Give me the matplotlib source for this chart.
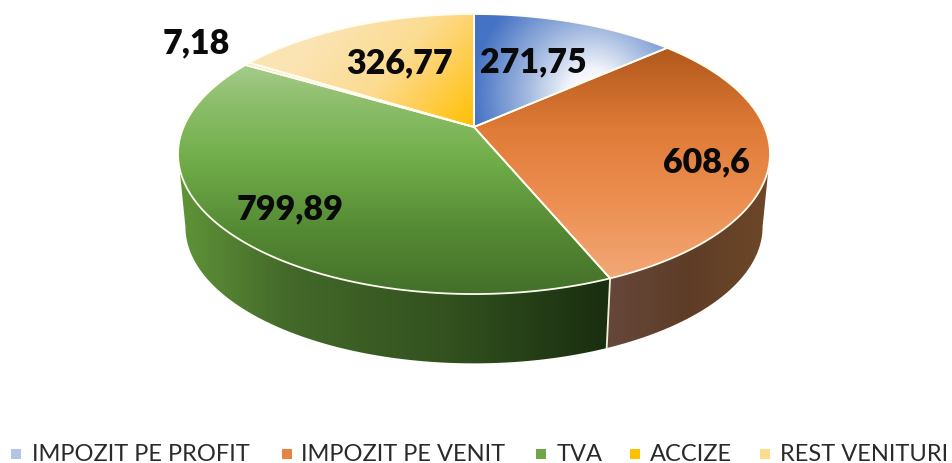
import numpy as np
from matplotlib import pyplot as plt
from matplotlib.colors import LinearSegmentedColormap
from matplotlib.patches import Polygon

categories = ['IMPOZIT PE PROFIT', 'IMPOZIT PE VENIT', 'TVA', 'ACCIZE', 'REST VENITURI']
values = [271.75, 608.6, 799.89, 7.18, 326.77]
value_labels = ['271,75', '608,6', '799,89', '7,18', '326,77']
legend_colors = ['#B4C4E4', '#E58544', '#6FA547', '#FFC000', '#FBDD8E']

label_xy = [(533, 62), (706, 162), (290, 209), (196, 43), (400, 63)]
legend_marker_x = [16, 287, 541, 635, 765]
legend_text_x = [32, 301, 557, 650, 780]

# pie geometry, in picture pixels
CX, CY = 474, 128
A, B, K = 290.4, 134.8, 0.193
WALL_DROP, WALL_SCALE = 73.5, 0.975

plt.rcParams['font.family'] = ['Lato', 'DejaVu Sans']

fig = plt.figure(figsize=(9.52, 4.64), dpi=100)
ax = fig.add_axes([0, 0, 1, 1])


def rim(theta, scale=1.0, drop=0):
    # clockwise from the top, with the far side of the pie foreshortened
    w = 1 + K * np.cos(theta)
    return CX + scale * A * np.sin(theta) / w, CY + drop - scale * B * np.cos(theta) / w


def linear(p0, p1):
    d = np.array(p1, float) - np.array(p0, float)
    return lambda x, y: ((x - p0[0]) * d[0] + (y - p0[1]) * d[1]) / (d @ d)


def radial(c, r):
    return lambda x, y: np.hypot(x - c[0], y - c[1]) / r


def fill(verts, tfunc, stops, zorder, edge=None):
    cmap = LinearSegmentedColormap.from_list('g', stops)
    xx, yy = np.meshgrid(np.arange(0, 952) + 0.5, np.arange(0, 464) + 0.5)
    img = ax.imshow(np.clip(tfunc(xx, yy), 0, 1), cmap=cmap, vmin=0, vmax=1,
                    extent=(0, 952, 464, 0), aspect='auto', zorder=zorder,
                    interpolation='bilinear')
    patch = Polygon(verts, closed=True, facecolor='none',
                    edgecolor=edge if edge else 'none', linewidth=1.3,
                    zorder=zorder + 0.5, joinstyle='round')
    ax.add_patch(patch)
    img.set_clip_path(patch)


fractions = np.array(values) / sum(values)
edges = np.concatenate([[0], np.cumsum(fractions)]) * 2 * np.pi

top_fills = [
    (radial((592, 94), 120), [(0, '#FFFFFF'), (0.2, '#F2F5FB'), (0.55, '#A0B7DF'), (1, '#4472C4')]),
    (linear((0, 48), (0, 285)), [(0, '#B0581B'), (0.35, '#E07B38'), (0.65, '#EC8F51'), (1, '#F3A97A')]),
    (linear((0, 65), (0, 295)), [(0, '#A6CC8C'), (0.15, '#8FBF6E'), (0.4, '#72AF4B'), (0.72, '#558A34'), (1, '#44702A')]),
    (linear((0, 60), (0, 120)), [(0, '#FBE6B5'), (1, '#FFD050')]),
    (linear((340, 10), (474, 128)), [(0, '#FBE4B4'), (0.43, '#FCDC92'), (0.65, '#FFD05E'), (1, '#FFC000')]),
]

# only the part of each wall on the near side shows; stop at the widest point
near_start = np.arccos(-K)
near_end = 2 * np.pi - near_start
wall_fills = {
    1: (near_start, edges[2], linear((606, 0), (770, 0)),
        [(0, '#66473A'), (0.5, '#5E3D27'), (1, '#6E4728')]),
    2: (edges[2], near_end, linear((180, 0), (606, 0)),
        [(0, '#5F9438'), (0.25, '#44692A'), (0.65, '#31501E'), (1, '#1A2E10')]),
}
for i, (th0, th1, tfunc, stops) in wall_fills.items():
    th = np.linspace(max(th0, edges[i]), min(th1, edges[i + 1]), 200)
    x_top, y_top = rim(th)
    x_bot, y_bot = rim(th, WALL_SCALE, WALL_DROP)
    verts = np.column_stack([np.r_[x_top, x_bot[::-1]], np.r_[y_top, y_bot[::-1]]])
    fill(verts, tfunc, stops, 2)

# seam between the two walls
x0, y0 = rim(edges[2])
x1, y1 = rim(edges[2], WALL_SCALE, WALL_DROP)
ax.plot([x0, x1], [y0, y1], color='#F4F2DC', lw=1.3, zorder=3)

for i, (tfunc, stops) in enumerate(top_fills):
    th = np.linspace(edges[i], edges[i + 1], 200)
    x_top, y_top = rim(th)
    verts = np.column_stack([np.r_[CX, x_top], np.r_[CY, y_top]])
    fill(verts, tfunc, stops, 4, edge='#FFFDF0')

for txt, (x, y) in zip(value_labels, label_xy):
    ax.text(x, y, txt, fontsize=24.5, fontweight='heavy', color='#0A0A0A',
            ha='center', va='center', zorder=8)

for name, col, mx, tx in zip(categories, legend_colors, legend_marker_x, legend_text_x):
    ax.scatter([mx], [455], marker='s', s=42, color=col, linewidths=0, zorder=8)
    ax.text(tx, 455, name, fontsize=17, color='#2A2A2A', ha='left', va='center', zorder=8)

ax.set_xlim(0, 952)
ax.set_ylim(464, 0)
ax.axis('off')

fig.savefig('out.png', dpi=100)
